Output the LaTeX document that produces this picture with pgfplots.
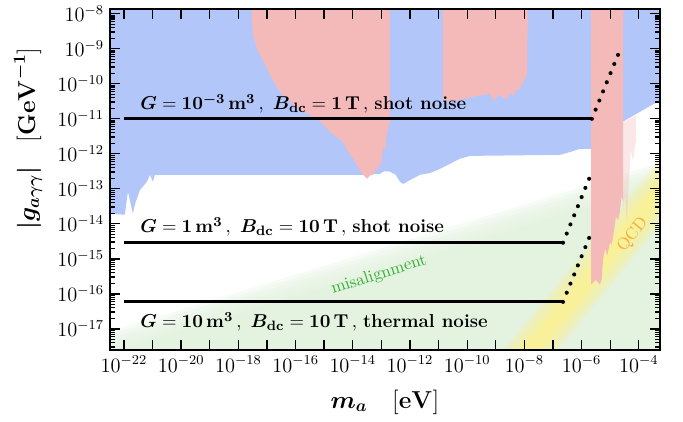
\documentclass[border=0pt]{standalone}
\usepackage{pgfplots}
\pgfplotsset{compat=1.18}
\usepackage{bm}
\definecolor{cblue}{RGB}{179,198,250}
\definecolor{cpink}{RGB}{244,186,186}
\definecolor{cgreen}{RGB}{228,242,224}
\definecolor{cyellow}{RGB}{249,240,154}
\definecolor{tgreen}{RGB}{50,175,50}
\definecolor{torange}{RGB}{245,175,60}
\begin{document}
\begin{tikzpicture}
\begin{axis}[scale only axis, width=322.1bp, height=199.7bp,
  xmin=-22.49, xmax=-3.26, ymin=-17.6, ymax=-7.86,
  xtick={-22,-21,-20,-19,-18,-17,-16,-15,-14,-13,-12,-11,-10,-9,-8,-7,-6,-5,-4},
  xticklabels={$10^{-22}$,{},$10^{-20}$,{},$10^{-18}$,{},$10^{-16}$,{},$10^{-14}$,{},$10^{-12}$,{},$10^{-10}$,{},$10^{-8}$,{},$10^{-6}$,{},$10^{-4}$},
  ytick={-17,-16,-15,-14,-13,-12,-11,-10,-9,-8},
  yticklabels={$10^{-17}$,$10^{-16}$,$10^{-15}$,$10^{-14}$,$10^{-13}$,$10^{-12}$,$10^{-11}$,$10^{-10}$,$10^{-9}$,$10^{-8}$},
  minor ytick={-17.52288,-17.39794,-17.30103,-17.22185,-17.15490,-17.09691,-17.04576,-16.69897,-16.52288,-16.39794,-16.30103,-16.22185,-16.15490,-16.09691,-16.04576,-15.69897,-15.52288,-15.39794,-15.30103,-15.22185,-15.15490,-15.09691,-15.04576,-14.69897,-14.52288,-14.39794,-14.30103,-14.22185,-14.15490,-14.09691,-14.04576,-13.69897,-13.52288,-13.39794,-13.30103,-13.22185,-13.15490,-13.09691,-13.04576,-12.69897,-12.52288,-12.39794,-12.30103,-12.22185,-12.15490,-12.09691,-12.04576,-11.69897,-11.52288,-11.39794,-11.30103,-11.22185,-11.15490,-11.09691,-11.04576,-10.69897,-10.52288,-10.39794,-10.30103,-10.22185,-10.15490,-10.09691,-10.04576,-9.69897,-9.52288,-9.39794,-9.30103,-9.22185,-9.15490,-9.09691,-9.04576,-8.69897,-8.52288,-8.39794,-8.30103,-8.22185,-8.15490,-8.09691,-8.04576},
  tick label style={font=\large},
  major tick length=6bp, minor tick length=3bp,
  tick style={black, line width=0.8pt},
  axis line style={line width=1pt},
  axis on top,
  xlabel={$\bm{m_a}\quad\lbrack\mathbf{eV}\rbrack$},
  ylabel={$\bm{\vert g_{a\gamma\gamma}\vert}\quad\lbrack\mathbf{GeV}^{\bm{-1}}\rbrack$},
  xlabel style={at={(axis description cs:0.5,-0.153)}, anchor=center, font=\Large},
  ylabel style={at={(axis description cs:-0.149,0.62)}, anchor=center, font=\Large},
]
% misalignment band (soft edge)
\addplot[fill=cgreen, draw=none, fill opacity=0.3] coordinates {(-22.6,-17.10) (-3.1,-12.22) (-3.1,-18) (-22.6,-18)};
\addplot[fill=cgreen, draw=none, fill opacity=0.3] coordinates {(-22.6,-17.20) (-3.1,-12.32) (-3.1,-18) (-22.6,-18)};
\addplot[fill=cgreen, draw=none, fill opacity=0.3] coordinates {(-22.6,-17.30) (-3.1,-12.42) (-3.1,-18) (-22.6,-18)};
\addplot[fill=cgreen, draw=none, fill opacity=0.3] coordinates {(-22.6,-17.40) (-3.1,-12.52) (-3.1,-18) (-22.6,-18)};
\addplot[fill=cgreen, draw=none, fill opacity=0.3] coordinates {(-22.6,-17.50) (-3.1,-12.62) (-3.1,-18) (-22.6,-18)};
\addplot[fill=cgreen, draw=none, fill opacity=0.3] coordinates {(-22.6,-17.60) (-3.1,-12.72) (-3.1,-18) (-22.6,-18)};
\addplot[fill=cgreen, draw=none] coordinates {(-22.6,-17.70) (-3.1,-12.82) (-3.1,-18) (-22.6,-18)};
% QCD band (soft edges)
\addplot[fill=cyellow, draw=none, fill opacity=0.3] coordinates {(-9.5,-18.37) (-3.0,-11.87) (-3.0,-13.77) (-9.5,-20.27)};
\addplot[fill=cyellow, draw=none, fill opacity=0.3] coordinates {(-9.5,-18.52) (-3.0,-12.02) (-3.0,-13.62) (-9.5,-20.12)};
\addplot[fill=cyellow, draw=none, fill opacity=0.3] coordinates {(-9.5,-18.67) (-3.0,-12.17) (-3.0,-13.47) (-9.5,-19.97)};
\addplot[fill=cyellow, draw=none, fill opacity=0.3] coordinates {(-9.5,-18.82) (-3.0,-12.32) (-3.0,-13.32) (-9.5,-19.82)};
\addplot[fill=cyellow, draw=none] coordinates {(-9.5,-18.97) (-3.0,-12.47) (-3.0,-13.17) (-9.5,-19.67)};
% excluded (blue)
\addplot[fill=cblue, draw=none] coordinates {(-22.6,-7.5) (-22.6,-13.71) (-21.97,-13.74) (-21.9,-13.3) (-21.86,-13.09) (-21.8,-13.3) (-21.69,-13.71) (-21.6,-13.4) (-21.44,-13.03) (-21.3,-12.9) (-21.2,-12.8) (-21.09,-12.6) (-20.99,-12.8) (-20.92,-12.6) (-13.64,-12.6) (-13.4,-12.57) (-13.05,-12.57) (-12.9,-12.5) (-12.7,-12.51) (-12.5,-12.6) (-12.35,-12.8) (-12.24,-12.86) (-12.0,-12.75) (-11.65,-12.6) (-11.3,-12.55) (-11.0,-12.45) (-10.25,-12.14) (-9.9,-12.06) (-6.76,-12.03) (-6.4,-11.95) (-6.06,-11.86) (-5.2,-11.86) (-4.62,-11.11) (-3.1,-10.4) (-3.1,-7.5)};
% faint pink streaks below the blue edge
\addplot[fill=cpink, draw=none, fill opacity=0.35] coordinates {(-4.55,-11.1) (-4.55,-13.6) (-4.48,-13.2) (-4.42,-14.0) (-4.35,-12.9) (-4.28,-11.9) (-4.2,-12.2) (-4.1,-11.6) (-4.1,-10.9)};
% excluded (pink)
\addplot[fill=cpink, draw=none] coordinates {(-17.52,-7.5) (-17.52,-8.23) (-17.49,-8.6) (-17.35,-9.0) (-17.1,-9.4) (-16.9,-9.74) (-16.55,-10.23) (-16.2,-10.5) (-15.95,-10.71) (-15.6,-10.85) (-15.25,-11.0) (-15.0,-11.2) (-14.8,-11.37) (-14.6,-11.5) (-14.34,-11.66) (-14.2,-11.9) (-13.99,-12.14) (-13.8,-12.4) (-13.64,-12.6) (-13.5,-12.71) (-13.4,-12.62) (-13.29,-12.6) (-13.2,-12.4) (-13.12,-12.5) (-13.05,-12.23) (-13.0,-12.3) (-12.94,-11.8) (-12.87,-11.9) (-12.8,-11.37) (-12.7,-11.09) (-12.7,-7.5)};
\addplot[fill=cpink, draw=none] coordinates {(-10.85,-7.5) (-10.85,-10.43) (-10.71,-10.51) (-10.3,-10.47) (-9.8,-10.37) (-9.5,-10.33) (-9.2,-10.29) (-9.1,-10.45) (-9.03,-10.46) (-8.9,-10.3) (-8.75,-10.4) (-8.6,-10.43) (-8.5,-10.23) (-8.4,-10.35) (-8.3,-10.2) (-8.15,-10.14) (-7.91,-9.74) (-7.87,-7.5)};
\addplot[fill=cpink, draw=none] coordinates {(-5.67,-7.5) (-5.67,-15.74) (-5.5,-15.6) (-5.36,-15.74) (-5.29,-15.57) (-5.25,-15.0) (-5.18,-14.71) (-5.1,-14.9) (-5.0,-14.51) (-4.95,-14.6) (-4.87,-14.23) (-4.8,-13.8) (-4.72,-13.9) (-4.66,-13.66) (-4.6,-13.2) (-4.55,-13.37) (-4.55,-7.5)};
% sensitivity projections
\addplot[black, line width=1.8pt] coordinates {(-22,-11) (-5.64,-11)};
\addplot[black, line width=2.4pt, dash pattern=on 0pt off 5.8pt, line cap=round] coordinates {(-5.64,-11) (-4.69,-9.1)};
\addplot[black, line width=1.8pt] coordinates {(-22,-14.54) (-6.65,-14.54)};
\addplot[black, line width=2.4pt, dash pattern=on 0pt off 5.8pt, line cap=round] coordinates {(-6.65,-14.54) (-5.68,-12.6)};
\addplot[black, line width=1.8pt] coordinates {(-22,-16.23) (-6.65,-16.23)};
\addplot[black, line width=2.4pt, dash pattern=on 0pt off 5.8pt, line cap=round] coordinates {(-6.65,-16.23) (-5.68,-14.29)};
\node[anchor=west, inner sep=0pt] at (axis cs:-21.44,-10.57) {\fontsize{11}{13}\selectfont$\bm{G}=\mathbf{10}^{\bm{-3}}\,\mathbf{m}^{\mathbf{3}}\,,\ \bm{B}_{\mathbf{dc}}=\mathbf{1}\,\mathbf{T}\,,\ $\textbf{shot noise}};
\node[anchor=west, inner sep=0pt] at (axis cs:-21.44,-14.09) {\fontsize{11}{13}\selectfont$\bm{G}=\mathbf{1}\,\mathbf{m}^{\mathbf{3}}\,,\ \bm{B}_{\mathbf{dc}}=\mathbf{10}\,\mathbf{T}\,,\ $\textbf{shot noise}};
\node[anchor=west, inner sep=0pt] at (axis cs:-21.44,-16.8) {\fontsize{11}{13}\selectfont$\bm{G}=\mathbf{10}\,\mathbf{m}^{\mathbf{3}}\,,\ \bm{B}_{\mathbf{dc}}=\mathbf{10}\,\mathbf{T}\,,\ $\textbf{thermal noise}};
\node[rotate=17.5, text=tgreen] at (axis cs:-13.08,-15.46) {misalignment};
\node[rotate=51, text=torange, inner sep=1pt] at (axis cs:-4.21,-14.31) {QCD};
\end{axis}
\path (current axis.south west) ++(-64.4bp,-42.2bp) rectangle ++(400bp,246bp);
\end{tikzpicture}
\end{document}
